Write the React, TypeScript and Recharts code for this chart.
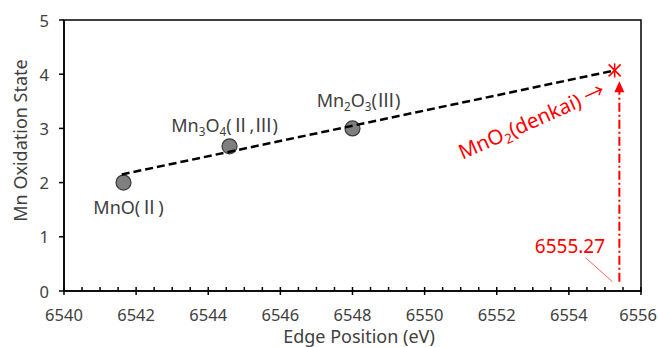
import React from "react";
import {ReferenceArea, ReferenceDot, ReferenceLine, Scatter, ScatterChart, XAxis, YAxis} from "recharts";

const compounds = ["MnO(Ⅱ)", "Mn3O4(Ⅱ,Ⅲ)", "Mn2O3(Ⅲ)"];
const edgePositions = [6541.65, 6544.59, 6548.0];
const oxidationStates = [2, 2.67, 3];

const trendEdge = [6541.6, 6555.27];
const trendState = [2.15, 4.07];

const sampleEdge = [6555.27];
const sampleState = [4.07];

const xMajorTicks = [6540, 6542, 6544, 6546, 6548, 6550, 6552, 6554, 6556];
const xTicks = xMajorTicks.flatMap((t, i) => (i === 0 ? [t] : [t - 1.5, t - 1, t - 0.5, t]));
const yTicks = [0, 1, 2, 3, 4, 5];

const FONT = "'Noto Sans', 'Noto Sans CJK JP', sans-serif";
const CJK = "'Noto Sans CJK JP', sans-serif";
const TEXT = "#404040";
const RED = "#ff0000";

const txt = (size: number, color = TEXT) => ({fontSize: size, fontFamily: FONT, fill: color});

// label offsets (px) from each marker centre
const labelOffsets = [
  {dx: 5, dy: 25},
  {dx: -5, dy: -21},
  {dx: 6, dy: -28},
];

const compoundData = compounds.map((name, i) => ({name, x: edgePositions[i], y: oxidationStates[i]}));
const trendData = trendEdge.map((x, i) => ({x, y: trendState[i]}));
const sampleData = sampleEdge.map((x, i) => ({x, y: sampleState[i]}));

// digits become subscripts, roman numerals use the CJK face
const formula = (text: string, size: number) => {
  let shifted = false;
  return text.split(/(\d|[ⅠⅡⅢⅣ])/).filter(Boolean).map((part, i) => {
    if (/\d/.test(part)) {
      shifted = true;
      return <tspan key={i} style={{fontSize: size * 0.65}} dy={4}>{part}</tspan>;
    }
    const dy = shifted ? -4 : 0;
    shifted = false;
    if (/[ⅠⅡⅢⅣ]/.test(part)) return <tspan key={i} dy={dy} style={{fontFamily: CJK}}>{part}</tspan>;
    return <tspan key={i} dy={dy}>{part}</tspan>;
  });
};

const CompoundDot = (p: any) => {
  const idx = compounds.indexOf(p.payload?.name);
  const off = labelOffsets[idx] || {dx: 0, dy: 0};
  return (
    <g>
      <circle cx={p.cx} cy={p.cy} r={7.5} fill="#7f7f7f" stroke="#3a3a3a" strokeWidth={1.2}/>
      <text x={p.cx + off.dx} y={p.cy + off.dy + 6.5} textAnchor="middle" style={txt(18)}>
        {formula(p.payload?.name ?? "", 18)}
      </text>
    </g>
  );
};

const StarDot = (p: any) => (
  <g stroke={RED} strokeWidth={1.6}>
    <line x1={p.cx} y1={p.cy - 7} x2={p.cx} y2={p.cy + 7}/>
    <line x1={p.cx - 6} y1={p.cy - 6} x2={p.cx + 6} y2={p.cy + 6}/>
    <line x1={p.cx - 6} y1={p.cy + 6} x2={p.cx + 6} y2={p.cy - 6}/>
  </g>
);

// sloped caption pointing at the sample marker
const Caption = (p: any) => (
  <text x={p.cx} y={p.cy} transform={`rotate(-24, ${p.cx}, ${p.cy})`} style={txt(20.5, RED)}>
    <tspan>MnO</tspan>
    <tspan style={{fontSize: 13.5}} dy={4}>2</tspan>
    <tspan dy={-4}>(denkai) →</tspan>
  </text>
);

const XTick = (props: any) => {
  const {x, y, payload} = props;
  const major = xMajorTicks.includes(payload.value);
  const last = payload.value === xMajorTicks[xMajorTicks.length - 1];
  return (
    <g>
      <line x1={x} x2={x} y1={y - 4} y2={major ? y + 4 : y} stroke="#000" strokeWidth={1.5}/>
      {major && (
        <text x={last ? x + 16 : x} y={y + 30} textAnchor={last ? "end" : "middle"} style={txt(16.5)}>
          {payload.value}
        </text>
      )}
    </g>
  );
};

const YTick = (props: any) => {
  const {x, y, payload} = props;
  return (
    <text x={x} y={y} textAnchor="end" dominantBaseline="central" style={txt(16.5)}>
      {payload.value}
    </text>
  );
};

const ArrowLine = (p: any) => {
  const top = Math.min(p.y1, p.y2);
  const bottom = Math.max(p.y1, p.y2);
  const x = p.x1;
  return (
    <g>
      <line x1={x} x2={x} y1={bottom} y2={top + 10} stroke={RED} strokeWidth={2} strokeDasharray="9 3 2 3"/>
      <polygon points={`${x},${top} ${x - 5},${top + 11} ${x + 5},${top + 11}`} fill={RED}/>
    </g>
  );
};

const YTitle = (props: any) => {
  const vb = props.viewBox;
  const cx = vb.x + 20;
  const cy = vb.y + vb.height / 2 - 15;
  return (
    <text x={cx} y={cy} transform={`rotate(-90, ${cx}, ${cy})`} textAnchor="middle" dominantBaseline="central"
          style={txt(18)}>
      Mn Oxidation State
    </text>
  );
};

const XTitle = (props: any) => {
  const vb = props.viewBox;
  return (
    <text x={vb.x + vb.width / 2 + 6.5} y={vb.y + 52} textAnchor="middle" style={txt(18)}>
      Edge Position (eV)
    </text>
  );
};

const ValueLabel = (p: any) => (
  <text x={p.cx} y={p.cy} textAnchor="middle" dominantBaseline="central" style={txt(19, RED)}>
    6555.27
  </text>
);

export default function App() {
  return (
    <div style={{position: "fixed", left: 0, top: 0, width: 658, height: 347, background: "#fff"}}>
      <ScatterChart width={658} height={347} margin={{top: 20, right: 17, left: 0, bottom: 0}}>
        <XAxis type="number" dataKey="x" domain={[6540, 6556]} ticks={xTicks} interval={0}
               allowDataOverflow height={56} tickSize={0} tickMargin={0} tickLine={false}
               axisLine={{stroke: "#000", strokeWidth: 1.5}} tick={<XTick/>} label={XTitle}/>
        <YAxis type="number" dataKey="y" domain={[0, 5]} ticks={yTicks} interval={0} width={64}
               tickSize={5} tickMargin={10} axisLine={{stroke: "#000", strokeWidth: 1.5}}
               tickLine={{stroke: "#000", strokeWidth: 1.5}} tick={<YTick/>} label={YTitle}/>
        <ReferenceArea x1={6540} x2={6556} y1={0} y2={5} fill="none" fillOpacity={0} stroke="#000"
                       strokeWidth={1.5}/>
        <Scatter data={compoundData} shape={CompoundDot} isAnimationActive={false}/>
        <Scatter data={trendData} line={{stroke: "#000", strokeWidth: 2.5, strokeDasharray: "8 4"}}
                 lineType="joint" shape={() => <g/>} isAnimationActive={false}/>
        <ReferenceLine segment={[{x: 6555.4, y: 0.17}, {x: 6555.4, y: 3.87}]} shape={ArrowLine}/>
        <ReferenceLine segment={[{x: 6554.47, y: 0.61}, {x: 6555.21, y: 0.17}]} stroke="#ff6060" strokeWidth={1}/>
        <ReferenceDot x={6554.03} y={0.83} r={0} shape={ValueLabel}/>
        <ReferenceDot x={6551.05} y={2.42} r={0} shape={Caption}/>
        <Scatter data={sampleData} shape={StarDot} isAnimationActive={false}/>
      </ScatterChart>
    </div>
  );
}
